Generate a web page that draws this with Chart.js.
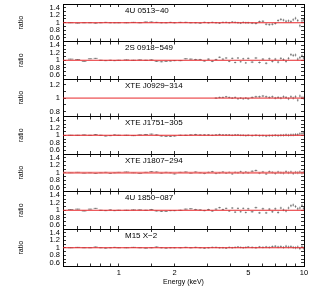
<!DOCTYPE html>
<html>
<head>
<meta charset="utf-8">
<script src="https://cdn.jsdelivr.net/npm/chart.js@4"></script>
<style>
  html, body { margin: 0; padding: 0; background: #fff; }
  #wrap { position: relative; width: 314px; height: 287px; }
  #wrap canvas { position: absolute; left: 0; top: 0; }
</style>
</head>
<body>
<div id="wrap"></div>
<script>
// source names, one per panel (top to bottom)
const sources = ['4U 0513\u221240', '2S 0918\u2212549', 'XTE J0929\u2212314', 'XTE J1751\u2212305',
  'XTE J1807\u2212294', '4U 1850\u2212087', 'M15 X\u22122'];

// energy bins (keV)
const energy = [0.55, 0.60, 0.65, 0.70, 0.75, 0.80, 0.85, 0.90, 0.95, 1.00,
  1.10, 1.20, 1.30, 1.40, 1.50, 1.60, 1.70, 1.80, 1.90, 2.00,
  2.15, 2.30, 2.45, 2.60, 2.75, 2.90, 3.05, 3.20, 3.35, 3.50,
  3.65, 3.80, 3.95, 4.10, 4.25, 4.40, 4.55, 4.70, 4.85, 5.00,
  5.25, 5.50, 5.75, 6.00, 6.25, 6.50, 6.75, 7.00, 7.25, 7.50,
  7.75, 8.00, 8.25, 8.50, 8.75, 9.00, 9.25, 9.50, 9.75, 9.95];

// data/model ratios
const ratio0513 = [1.00, 0.99, 1.00, 1.00, 0.99, 1.00, 1.01, 1.00, 1.00, 1.00,
  1.00, 1.01, 1.00, 1.02, 1.02, 1.01, 1.00, 1.00, 1.01, 1.00,
  1.01, 1.01, 1.00, 1.00, 0.99, 1.01, 1.00, 1.01, 1.00, 0.99,
  1.01, 1.01, 1.00, 1.02, 1.01, 1.00, 0.99, 1.01, 1.00, 1.00,
  0.99, 0.98, 1.03, 1.04, 0.96, 0.95, 0.96, 0.98, 1.06, 1.09,
  1.07, 1.04, 1.05, 1.03, 1.08, 1.12, 1.06, 0.92, 1.05, 1.08];
const ratio0918 = [1.03, 1.02, 0.97, 1.04, 1.05, 1.00, 0.99, 1.00, 0.99, 1.00,
  1.01, 1.00, 1.01, 1.00, 1.01, 0.97, 0.96, 0.97, 0.98, 0.99,
  0.99, 1.04, 1.03, 1.02, 1.02, 0.98, 1.03, 0.97, 1.02, 1.08,
  1.03, 1.06, 0.97, 1.05, 0.94, 1.06, 0.96, 1.04, 0.93, 1.05,
  0.95, 1.06, 0.94, 1.03, 0.92, 1.04, 0.97, 1.03, 0.95, 1.05,
  1.02, 0.97, 1.05, 1.15, 1.13, 1.14, 1.03, 1.07, 1.12, 1.06];
const ratio0929 = [null, null, null, null, null, null, null, null, null, null,
  null, null, null, null, null, null, null, null, null, null,
  null, null, null, null, null, null, null, null, 1.00, 1.01,
  1.01, 1.02, 1.01, 1.00, 1.01, 0.99, 1.00, 0.99, 1.00, 0.99,
  1.01, 1.02, 1.02, 1.03, 1.02, 1.01, 1.02, 1.00, 1.01, 1.00,
  1.02, 1.01, 0.99, 1.02, 1.00, 1.02, 0.97, 1.03, 1.01, 1.00];
const ratio1751 = [1.00, 1.00, 1.01, 1.00, 1.02, 1.00, 0.98, 0.99, 1.01, 1.00,
  1.00, 0.99, 1.01, 1.02, 1.03, 1.01, 0.98, 0.97, 0.97, 0.98,
  1.00, 1.00, 1.01, 1.02, 1.01, 1.01, 1.01, 1.00, 1.01, 1.02,
  1.01, 1.01, 1.01, 1.00, 1.01, 1.01, 1.00, 1.00, 0.99, 1.00,
  0.99, 1.00, 0.99, 0.99, 0.98, 0.99, 0.99, 1.00, 0.99, 1.00,
  1.00, 1.01, 1.00, 1.01, 1.01, 1.02, 1.02, 1.04, 1.05, 1.06];
const ratio1807 = [1.00, 1.01, 0.99, 1.00, 0.98, 1.00, 1.01, 0.98, 1.00, 1.01,
  1.02, 1.00, 0.98, 1.01, 1.03, 1.02, 0.99, 1.01, 1.00, 0.97,
  1.01, 1.02, 0.99, 1.02, 1.00, 0.98, 1.01, 1.03, 0.98, 1.00,
  1.02, 0.99, 1.01, 0.97, 1.01, 1.00, 1.03, 0.99, 1.02, 1.00,
  1.04, 1.06, 0.99, 1.02, 0.97, 1.03, 1.01, 0.98, 1.02, 1.00,
  0.99, 1.03, 1.00, 1.02, 0.98, 1.01, 1.00, 1.02, 0.99, 1.01];
const ratio1850 = [1.02, 1.03, 0.98, 1.03, 1.05, 1.00, 0.99, 1.01, 0.99, 1.00,
  1.00, 1.01, 1.01, 1.00, 1.02, 0.98, 0.97, 0.97, 0.99, 0.99,
  1.00, 1.03, 1.04, 1.02, 1.01, 0.99, 1.02, 0.98, 1.03, 1.07,
  1.02, 1.05, 0.98, 1.06, 0.95, 1.05, 0.96, 1.05, 0.94, 1.04,
  0.96, 1.07, 0.93, 1.04, 0.93, 1.03, 0.96, 1.04, 0.94, 1.06,
  1.01, 0.98, 1.06, 1.12, 1.14, 1.10, 1.04, 1.06, 1.13, 1.05];
const ratioM15 = [1.00, 1.01, 1.00, 1.00, 1.02, 1.00, 0.99, 1.00, 1.01, 1.00,
  1.00, 1.01, 1.00, 0.99, 1.00, 1.02, 1.00, 0.99, 1.00, 1.00,
  1.00, 1.01, 1.00, 1.01, 1.00, 0.99, 1.00, 1.01, 1.01, 1.00,
  1.00, 0.99, 1.01, 1.00, 1.01, 1.02, 1.01, 1.00, 1.01, 1.02,
  1.01, 1.00, 1.02, 1.01, 1.02, 1.01, 1.03, 1.04, 1.02, 1.03,
  1.01, 1.04, 1.02, 1.03, 1.01, 1.00, 1.02, 0.98, 1.03, 0.99];

const panelRatios = [ratio0513, ratio0918, ratio0929, ratio1751, ratio1807, ratio1850, ratioM15];
const yLimits = [[0.5, 1.5], [0.5, 1.5], [0.73, 1.28], [0.5, 1.5], [0.5, 1.5], [0.5, 1.5], [0.5, 1.5]];
const yTickValues = [0.5, 0.6, 0.7, 0.8, 0.9, 1, 1.1, 1.2, 1.3, 1.4, 1.5];
const yTickLabels = ['0.6', '0.8', '1', '1.2', '1.4'];
const xTickLabels = ['1', '2', '5', '10'];
const energyRange = [0.5, 10];
const modelRatio = 1;

const W = 314, H = 287;
const firstTop = 4, panelH = 37.5;
const FONT = '"Liberation Sans", Arial, Helvetica, sans-serif';
const wrap = document.getElementById('wrap');

// half bin width in pixels, for the horizontal part of each cross
function binHalfWidth(ctx) {
  const s = ctx.chart.scales.x;
  const i = ctx.dataIndex;
  const e = energy[i];
  const lo = i > 0 ? (energy[i - 1] + e) / 2 : e - (energy[1] - energy[0]) / 2;
  const hi = i < energy.length - 1 ? (energy[i + 1] + e) / 2 : e + (e - energy[i - 1]) / 2;
  return Math.max(0.8, (s.getPixelForValue(hi) - s.getPixelForValue(lo)) / 2 * 0.75);
}

const sourceLabel = {
  id: 'sourceLabel',
  afterDraw(chart, args, opts) {
    const { ctx, chartArea } = chart;
    ctx.save();
    ctx.font = '8px ' + FONT;
    ctx.fillStyle = '#000';
    ctx.textBaseline = 'middle';
    ctx.fillText(opts.text, chartArea.left + 62, chartArea.top + 6.5);
    ctx.restore();
  }
};

function frameGrid() {
  return { display: true, drawOnChartArea: false, drawTicks: true, tickLength: -3, tickColor: '#000', tickWidth: 0.8 };
}

function fixedYTicks(s) {
  s.ticks = yTickValues.filter(v => v >= s.min - 1e-9 && v <= s.max + 1e-9).map(v => ({ value: v }));
}

panelRatios.forEach((vals, i) => {
  const last = i === panelRatios.length - 1;
  const top = firstTop + i * panelH;
  const bottom = top + panelH;
  const canvas = document.createElement('canvas');
  canvas.width = W; canvas.height = H;
  canvas.style.width = W + 'px'; canvas.style.height = H + 'px';
  wrap.appendChild(canvas);

  const pts = energy.map((e, k) => ({ x: e, y: vals[k] }));
  const redWide = i === 4;

  new Chart(canvas, {
    type: 'line',
    data: {
      datasets: [
        {
          data: [{ x: energyRange[0], y: modelRatio }, { x: energyRange[1], y: modelRatio }],
          borderColor: redWide ? 'rgba(238,90,90,0.8)' : '#e8262a',
          borderWidth: redWide ? 2.2 : 1,
          pointRadius: 0
        },
        {
          data: pts, showLine: false, pointStyle: 'line',
          pointRadius: binHalfWidth, pointBorderColor: '#444', pointBorderWidth: 0.6,
          pointHoverRadius: 0
        },
        {
          data: pts, showLine: false, pointStyle: 'line', pointRotation: 90,
          pointRadius: ctx => 0.4 + 0.12 * energy[ctx.dataIndex],
          pointBorderColor: '#555', pointBorderWidth: 0.5, pointHoverRadius: 0
        }
      ]
    },
    options: {
      responsive: false,
      animation: false,
      devicePixelRatio: 1,
      events: [],
      layout: { padding: { top: top, bottom: last ? 0 : H - bottom, left: 0, right: 10 } },
      plugins: {
        legend: { display: false },
        tooltip: { enabled: false },
        sourceLabel: { text: sources[i] }
      },
      scales: {
        x: {
          type: 'logarithmic', position: 'bottom',
          min: energyRange[0], max: energyRange[1],
          grid: frameGrid(),
          border: { display: true, color: '#000', width: 1 },
          ticks: {
            display: last, autoSkip: false, maxRotation: 0, padding: 5,
            color: '#000', font: { family: FONT, size: 7.5 },
            callback: v => xTickLabels.includes(String(v)) ? String(v) : ''
          },
          title: {
            display: last, text: 'Energy (keV)', color: '#000',
            font: { family: FONT, size: 7 }, padding: { top: 0, bottom: 1 }
          },
          afterFit: s => { s.height = last ? 20.5 : 0; s.paddingLeft = 0; s.paddingRight = 0; }
        },
        xt: {
          type: 'logarithmic', position: 'top',
          min: energyRange[0], max: energyRange[1],
          grid: frameGrid(),
          border: { display: true, color: '#000', width: 1 },
          ticks: { display: false, autoSkip: false },
          afterFit: s => { s.height = 0; s.paddingLeft = 0; s.paddingRight = 0; }
        },
        y: {
          position: 'left',
          min: yLimits[i][0], max: yLimits[i][1],
          grid: frameGrid(),
          border: { display: true, color: '#000', width: 1 },
          afterBuildTicks: fixedYTicks,
          ticks: {
            autoSkip: false, padding: 6,
            color: '#000', font: { family: FONT, size: 7.5 },
            callback: v => {
              const s = String(Math.round(v * 10) / 10);
              return yTickLabels.includes(s) ? s : '';
            }
          },
          title: {
            display: true, text: 'ratio', color: '#000',
            font: { family: FONT, size: 7 }, padding: { top: 17, bottom: 0 }
          },
          afterFit: s => { s.width = 63; s.paddingTop = 0; s.paddingBottom = 0; }
        },
        yr: {
          position: 'right',
          min: yLimits[i][0], max: yLimits[i][1],
          grid: frameGrid(),
          border: { display: true, color: '#000', width: 1 },
          afterBuildTicks: fixedYTicks,
          ticks: { display: false, autoSkip: false },
          afterFit: s => { s.width = 0; s.paddingTop = 0; s.paddingBottom = 0; }
        }
      }
    },
    plugins: [sourceLabel]
  });
});
</script>
</body>
</html>
